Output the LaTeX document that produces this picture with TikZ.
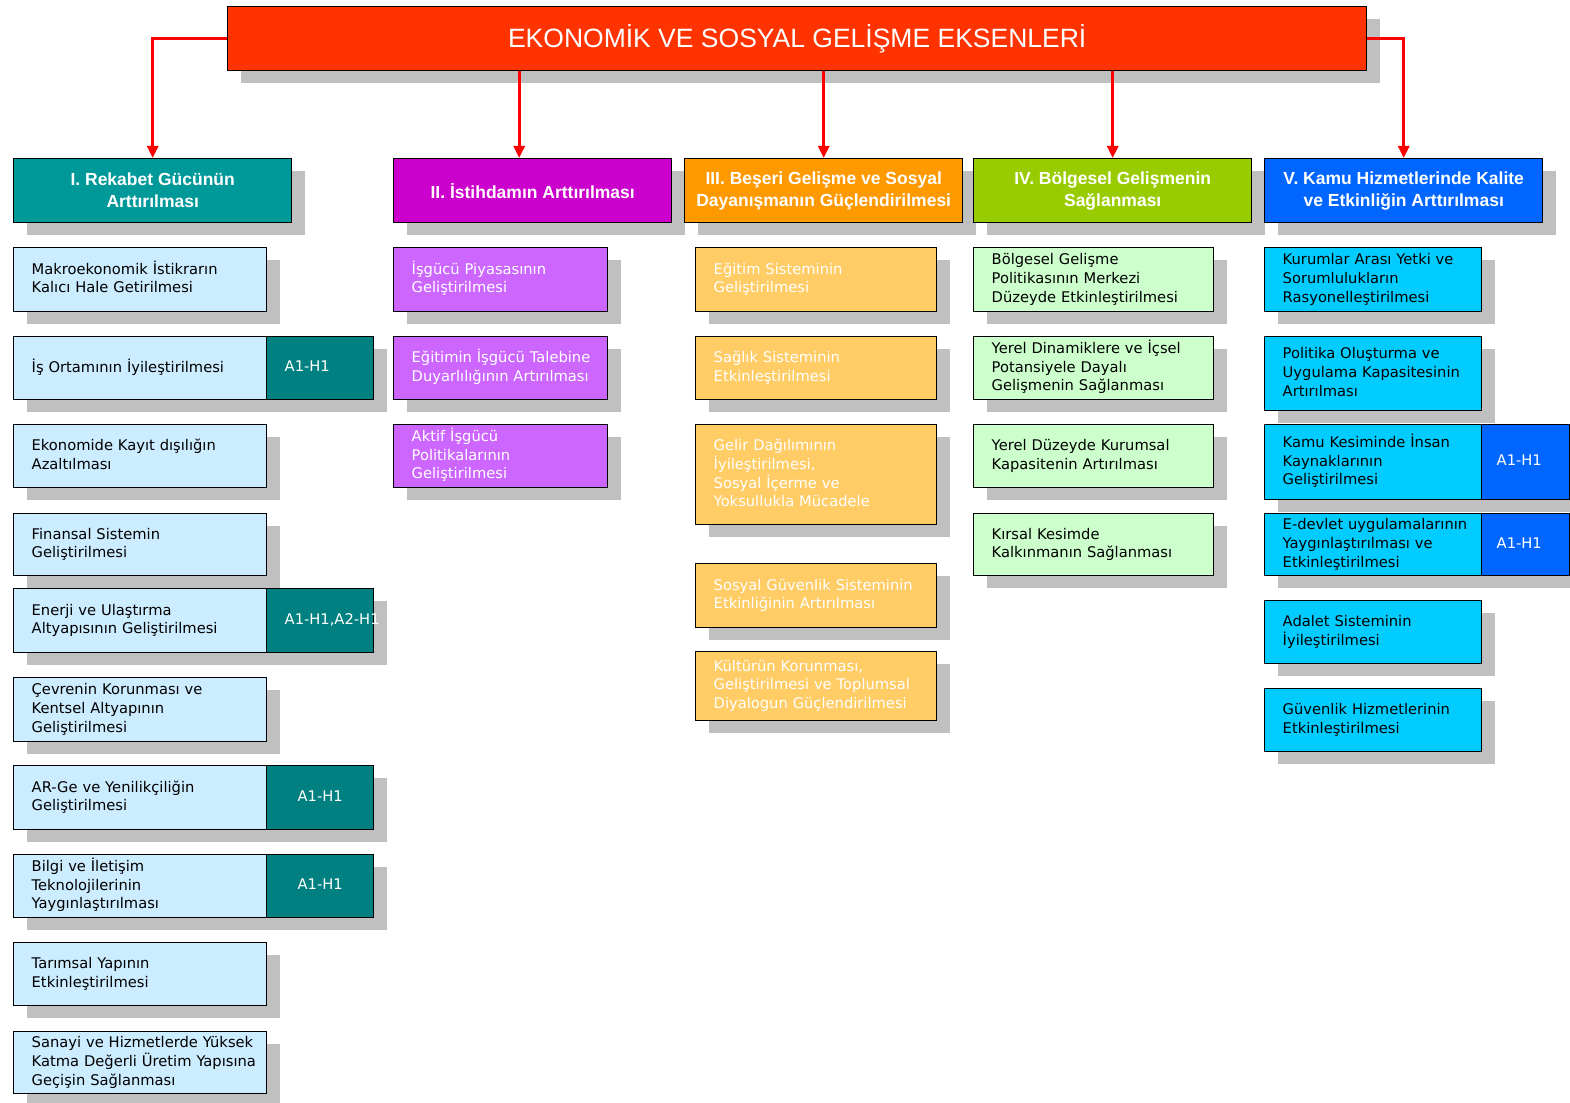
\documentclass[tikz,border=0pt]{standalone}
\usepackage{fontspec}
\setmainfont{DejaVu Sans}
\newfontfamily\hdfont{Liberation Sans}
\usetikzlibrary{shadows,arrows.meta}
\definecolor{shgray}{HTML}{C0C0C0}
\definecolor{titlered}{HTML}{FF3300}
\definecolor{arrred}{HTML}{FF0000}
\definecolor{hOne}{HTML}{009999}
\definecolor{hTwo}{HTML}{CC00CC}
\definecolor{hThree}{HTML}{FF9900}
\definecolor{hFour}{HTML}{99CC00}
\definecolor{hFive}{HTML}{0066FF}
\definecolor{sOne}{HTML}{CCECFF}
\definecolor{sTwo}{HTML}{CC66FF}
\definecolor{sThree}{HTML}{FFCC66}
\definecolor{sFour}{HTML}{CCFFCC}
\definecolor{sFive}{HTML}{00CCFF}
\definecolor{aOne}{HTML}{008080}
\definecolor{aFive}{HTML}{0066FF}
\newcommand\bodyfont{\fontsize{14.7}{18.7}\selectfont}
\newcommand\headfont{\hdfont\bfseries\fontsize{17.5}{22}\selectfont}
\tikzset{
  shadowed/.style={drop shadow={shadow xshift=13pt,shadow yshift=-12pt,fill=shgray,opacity=1}},
  boxbase/.style={draw=black,line width=1.4pt,anchor=north west,inner xsep=0pt,inner ysep=0pt,shadowed},
  subbox/.style={boxbase,align=left,font=\bodyfont},
  headbox/.style={boxbase,align=center,text=white,font=\headfont,minimum width=278pt,minimum height=64pt},
  arr/.style={draw=arrred,line width=2.8pt,-{Triangle[width=11pt,length=12pt]}},
}
% name, x, y, w, h, fill, text colour, text
\newcommand\mkbox[8]{%
  \pgfmathsetmacro\mytw{#4-36}%
  \node[subbox,fill=#6,text=#7,minimum width=#4pt,minimum height=#5pt,text width=\mytw pt] (#1) at (#2,#3)
    {\begin{tabular}{@{}l@{}}#8\end{tabular}};}
% name, x, y, w, h, fill, indent, align, text
\newcommand\mkabox[9]{%
  \pgfmathsetmacro\mytw{#4-2*#7}%
  \node[subbox,fill=#6,text=white,minimum width=#4pt,minimum height=#5pt,text width=\mytw pt,align=#8] (#1) at (#2,#3)
    {\begin{tabular}{@{}l@{}}#9\end{tabular}};}
\begin{document}
\begin{tikzpicture}[x=1pt,y=-1pt]
\useasboundingbox (0,0) rectangle (1570,1102);

% title
\node[boxbase,fill=titlered,minimum width=1139pt,minimum height=64pt,text=white,
      font=\hdfont\fontsize{26.5}{30}\selectfont] (title) at (227,6) {EKONOMİK VE SOSYAL GELİŞME EKSENLERİ};

% headers
\node[headbox,fill=hOne] (h1) at (13,158) {I. Rekabet Gücünün\\Arttırılması};
\node[headbox,fill=hTwo] (h2) at (393,158) {II. İstihdamın Arttırılması};
\node[headbox,fill=hThree] (h3) at (684,158) {III. Beşeri Gelişme ve Sosyal\\Dayanışmanın Güçlendirilmesi};
\node[headbox,fill=hFour] (h4) at (973,158) {IV. Bölgesel Gelişmenin\\Sağlanması};
\node[headbox,fill=hFive] (h5) at (1264,158) {V. Kamu Hizmetlerinde Kalite\\ve Etkinliğin Arttırılması};

% connectors
\coordinate (h2top) at ([xshift=-13.5pt]h2.north);
\draw[arr] (title.west) -| (h1.north);
\draw[arr] (title.south -| h2top) -- (h2top);
\draw[arr] (title.south -| h3.north) -- (h3.north);
\draw[arr] (title.south -| h4.north) -- (h4.north);
\draw[arr] (title.east) -| (h5.north);

% column I
\mkbox{a1}{13}{247}{253}{64}{sOne}{black}{Makroekonomik İstikrarın\\Kalıcı Hale Getirilmesi}
\mkbox{a2}{13}{336}{253}{63}{sOne}{black}{İş Ortamının İyileştirilmesi}
\mkabox{a2c}{266}{336}{107}{63}{aOne}{18}{left}{A1-H1}
\mkbox{a3}{13}{424}{253}{63}{sOne}{black}{Ekonomide Kayıt dışılığın\\Azaltılması}
\mkbox{a4}{13}{513}{253}{62}{sOne}{black}{Finansal Sistemin\\Geliştirilmesi}
\mkbox{a5}{13}{588}{253}{64}{sOne}{black}{Enerji ve Ulaştırma\\Altyapısının Geliştirilmesi}
\mkabox{a5c}{266}{588}{107}{64}{aOne}{18}{left}{A1-H1,A2-H1}
\mkbox{a6}{13}{677}{253}{64}{sOne}{black}{Çevrenin Korunması ve\\Kentsel Altyapının\\Geliştirilmesi}
\mkbox{a7}{13}{765}{253}{64}{sOne}{black}{AR-Ge ve Yenilikçiliğin\\Geliştirilmesi}
\mkabox{a7c}{266}{765}{107}{64}{aOne}{10}{center}{A1-H1}
\mkbox{a8}{13}{854}{253}{63}{sOne}{black}{Bilgi ve İletişim\\Teknolojilerinin\\Yaygınlaştırılması}
\mkabox{a8c}{266}{854}{107}{63}{aOne}{10}{center}{A1-H1}
\mkbox{a9}{13}{942}{253}{63}{sOne}{black}{Tarımsal Yapının\\Etkinleştirilmesi}
\mkbox{a10}{13}{1031}{253}{62}{sOne}{black}{Sanayi ve Hizmetlerde Yüksek\\Katma Değerli Üretim Yapısına\\Geçişin Sağlanması}

% column II
\mkbox{b1}{393}{247}{214}{64}{sTwo}{white}{İşgücü Piyasasının\\Geliştirilmesi}
\mkbox{b2}{393}{336}{214}{63}{sTwo}{white}{Eğitimin İşgücü Talebine\\Duyarlılığının Artırılması}
\mkbox{b3}{393}{424}{214}{63}{sTwo}{white}{Aktif İşgücü\\Politikalarının\\Geliştirilmesi}

% column III
\mkbox{c1}{695}{247}{241}{64}{sThree}{white}{Eğitim Sisteminin\\Geliştirilmesi}
\mkbox{c2}{695}{336}{241}{63}{sThree}{white}{Sağlık Sisteminin\\Etkinleştirilmesi}
\mkbox{c3}{695}{424}{241}{100}{sThree}{white}{Gelir Dağılımının\\İyileştirilmesi,\\Sosyal İçerme ve\\Yoksullukla Mücadele}
\mkbox{c4}{695}{563}{241}{64}{sThree}{white}{Sosyal Güvenlik Sisteminin\\Etkinliğinin Artırılması}
\mkbox{c5}{695}{651}{241}{69}{sThree}{white}{Kültürün Korunması,\\Geliştirilmesi ve Toplumsal\\Diyalogun Güçlendirilmesi}

% column IV
\mkbox{d1}{973}{247}{240}{64}{sFour}{black}{Bölgesel Gelişme\\Politikasının Merkezi\\Düzeyde Etkinleştirilmesi}
\mkbox{d2}{973}{336}{240}{63}{sFour}{black}{Yerel Dinamiklere ve İçsel\\Potansiyele Dayalı\\Gelişmenin Sağlanması}
\mkbox{d3}{973}{424}{240}{63}{sFour}{black}{Yerel Düzeyde Kurumsal\\Kapasitenin Artırılması}
\mkbox{d4}{973}{513}{240}{62}{sFour}{black}{Kırsal Kesimde\\Kalkınmanın Sağlanması}

% column V
\mkbox{e1}{1264}{247}{217}{64}{sFive}{black}{Kurumlar Arası Yetki ve\\Sorumlulukların\\Rasyonelleştirilmesi}
\mkbox{e2}{1264}{336}{217}{74}{sFive}{black}{Politika Oluşturma ve\\Uygulama Kapasitesinin\\Artırılması}
\mkbox{e3}{1264}{424}{217}{75}{sFive}{black}{Kamu Kesiminde İnsan\\Kaynaklarının\\Geliştirilmesi}
\mkabox{e3c}{1481}{424}{88}{75}{aFive}{15}{left}{A1-H1}
\mkbox{e4}{1264}{513}{217}{62}{sFive}{black}{E-devlet uygulamalarının\\Yaygınlaştırılması ve\\Etkinleştirilmesi}
\mkabox{e4c}{1481}{513}{88}{62}{aFive}{15}{left}{A1-H1}
\mkbox{e5}{1264}{600}{217}{63}{sFive}{black}{Adalet Sisteminin\\İyileştirilmesi}
\mkbox{e6}{1264}{688}{217}{63}{sFive}{black}{Güvenlik Hizmetlerinin\\Etkinleştirilmesi}
\end{tikzpicture}
\end{document}
